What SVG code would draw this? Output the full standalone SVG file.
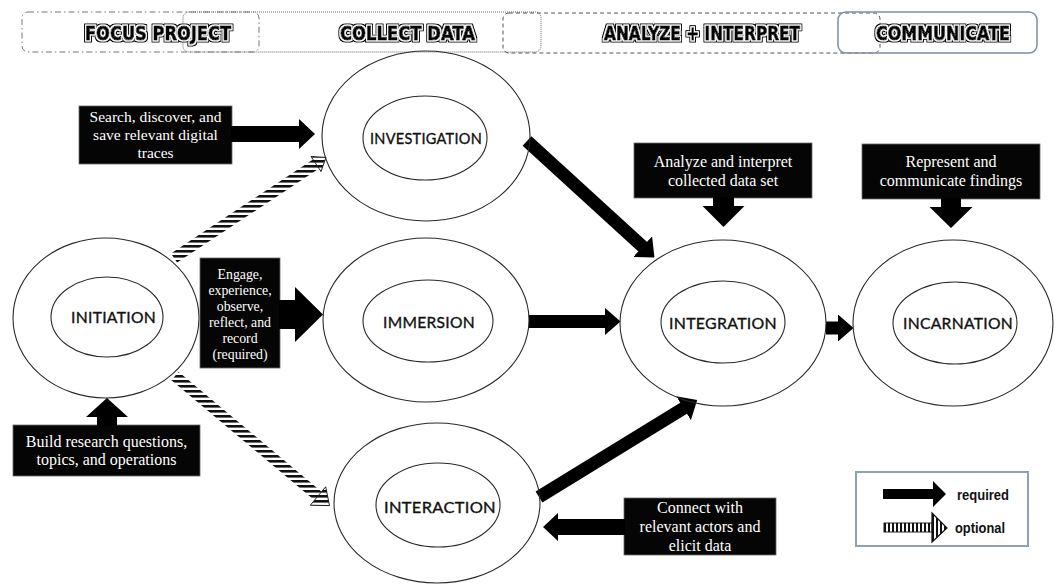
<svg xmlns="http://www.w3.org/2000/svg" width="1054" height="584" viewBox="0 0 1054 584">
<style>
.ell{fill:none;stroke:#2a2a2a;stroke-width:1.1}
.lbl{font-family:Lato,"Noto Sans",sans-serif;font-size:16px;fill:#111;stroke:#111;stroke-width:0.35;text-anchor:middle;letter-spacing:0.3px}
.box{fill:#050505;stroke:#6a6a6a;stroke-width:0.8}
.btxt{font-family:"Liberation Serif",serif;fill:#fff;text-anchor:middle;font-size:16px}
.hdr{font-family:"DejaVu Sans",sans-serif;font-weight:bold;font-size:19.5px;fill:#000;stroke:#000;stroke-width:1;stroke-linejoin:round;text-anchor:middle;filter:url(#inline)}
.req{stroke:#000;stroke-width:13;fill:none}
.opt{stroke:url(#hatch);stroke-width:11;fill:none}
.opthead{fill:url(#hatch);stroke:#111;stroke-width:0.9}
.leg{font-family:"Liberation Sans",Arial,sans-serif;font-weight:bold;font-size:14px;fill:#111}
</style>
<defs>
<filter id="inline" x="-5%" y="-30%" width="110%" height="160%">
<feMorphology in="SourceAlpha" operator="dilate" radius="2.1" result="outer"/>
<feMorphology in="SourceAlpha" operator="dilate" radius="0.8" result="mid"/>
<feFlood flood-color="#ffffff" result="white"/>
<feComposite in="white" in2="mid" operator="in" result="whiteMid"/>
<feMerge>
<feMergeNode in="outer"/>
<feMergeNode in="whiteMid"/>
<feMergeNode in="SourceGraphic"/>
</feMerge>
</filter>
<pattern id="hatch" patternUnits="userSpaceOnUse" width="8" height="5">
<rect width="8" height="5" fill="#fff"/>
<rect width="8" height="2.6" fill="#111"/>
</pattern>
<pattern id="vhatch" patternUnits="userSpaceOnUse" width="4" height="4">
<rect width="4" height="4" fill="#fff"/>
<rect width="2" height="4" fill="#111"/>
</pattern>
<marker id="reqhead" markerUnits="userSpaceOnUse" markerWidth="16" markerHeight="28" viewBox="0 0 16 28" refX="0.5" refY="14" orient="auto">
<path d="M0,0 L16,14 L0,28 Z" fill="#000"/>
</marker>
</defs>
<rect width="1054" height="584" fill="#fff"/>

<g id="header">
<rect x="22" y="12" width="237" height="40" rx="6" fill="none" stroke="#777" stroke-width="1" stroke-dasharray="6 3 1.5 3"/>
<rect x="183" y="12" width="358" height="40" rx="6" fill="none" stroke="#666" stroke-width="1" stroke-dasharray="1 1"/>
<rect x="503" y="13" width="377" height="40" rx="6" fill="none" stroke="#555" stroke-width="1" stroke-dasharray="4 3"/>
<rect x="838" y="12" width="199" height="41" rx="8" fill="none" stroke="#7f8ea3" stroke-width="1.5"/>
<text class="hdr" x="158" y="40" textLength="146" lengthAdjust="spacingAndGlyphs">FOCUS PROJECT</text>
<text class="hdr" x="407.5" y="40" textLength="135" lengthAdjust="spacingAndGlyphs">COLLECT DATA</text>
<text class="hdr" x="702" y="40" textLength="196" lengthAdjust="spacingAndGlyphs">ANALYZE + INTERPRET</text>
<text class="hdr" x="943" y="40" textLength="134" lengthAdjust="spacingAndGlyphs">COMMUNICATE</text>
</g>

<g id="connectors">
<line class="opt" x1="174" y1="258" x2="316" y2="164"/>
<polygon class="opthead" points="311,156.5 326,157.4 321,171.5"/>
<line class="opt" x1="175" y1="376" x2="318" y2="496"/>
<polygon class="opthead" points="310.3,505.2 329.5,505.6 325.7,486.8"/>
<line class="req" x1="527" y1="141" x2="643" y2="247" marker-end="url(#reqhead)"/>
<line class="req" x1="529" y1="321.5" x2="605" y2="321.5" marker-end="url(#reqhead)"/>
<line class="req" x1="826" y1="328" x2="838" y2="328" stroke-width="11" marker-end="url(#reqhead)"/>
<line class="req" x1="539" y1="497" x2="684" y2="408" marker-end="url(#reqhead)"/>
</g>

<g id="initiation">
<ellipse class="ell" cx="106" cy="318" rx="93" ry="80"/>
<ellipse class="ell" cx="107" cy="317" rx="56" ry="40"/>
<text class="lbl" x="113.5" y="323" textLength="85" lengthAdjust="spacingAndGlyphs">INITIATION</text>
</g>
<g id="investigation">
<ellipse class="ell" cx="426" cy="136" rx="104" ry="85"/>
<ellipse class="ell" cx="425" cy="138" rx="62" ry="42"/>
<text class="lbl" x="426" y="144" textLength="112" lengthAdjust="spacingAndGlyphs">INVESTIGATION</text>
</g>
<g id="immersion">
<ellipse class="ell" cx="426" cy="320" rx="103" ry="82"/>
<ellipse class="ell" cx="428" cy="321" rx="65" ry="41"/>
<text class="lbl" x="429" y="328" textLength="92" lengthAdjust="spacingAndGlyphs">IMMERSION</text>
</g>
<g id="interaction">
<ellipse class="ell" cx="437" cy="503" rx="103" ry="80"/>
<ellipse class="ell" cx="438" cy="505" rx="62" ry="42"/>
<text class="lbl" x="440" y="513" textLength="112" lengthAdjust="spacingAndGlyphs">INTERACTION</text>
</g>
<g id="integration">
<ellipse class="ell" cx="723" cy="323" rx="103" ry="83"/>
<ellipse class="ell" cx="723" cy="322" rx="62" ry="41"/>
<text class="lbl" x="723" y="329" textLength="108" lengthAdjust="spacingAndGlyphs">INTEGRATION</text>
</g>
<g id="incarnation">
<ellipse class="ell" cx="953" cy="323" rx="100" ry="83"/>
<ellipse class="ell" cx="955" cy="323" rx="62" ry="41"/>
<text class="lbl" x="958" y="329" textLength="110" lengthAdjust="spacingAndGlyphs">INCARNATION</text>
</g>

<g id="note-search">
<rect class="box" x="79" y="106" width="153" height="58"/>
<polygon fill="#000" points="231,126 299,126 299,119 315,134 299,149 299,142 231,142"/>
<text class="btxt" style="font-size:15.5px" x="155.5" y="122">Search, discover, and</text>
<text class="btxt" style="font-size:15.5px" x="155.5" y="140">save relevant digital</text>
<text class="btxt" style="font-size:15.5px" x="155.5" y="158">traces</text>
</g>
<g id="note-engage">
<rect class="box" x="200" y="258" width="80" height="110"/>
<polygon fill="#000" points="279,300 295,300 295,287 323,314.5 295,342 295,329 279,329"/>
<text class="btxt" style="font-size:13.8px" x="240" y="279">Engage,</text>
<text class="btxt" style="font-size:13.8px" x="240" y="295">experience,</text>
<text class="btxt" style="font-size:13.8px" x="240" y="311">observe,</text>
<text class="btxt" style="font-size:13.8px" x="240" y="327">reflect, and</text>
<text class="btxt" style="font-size:13.8px" x="240" y="343">record</text>
<text class="btxt" style="font-size:13.8px" x="240" y="359">(required)</text>
</g>
<g id="note-build">
<rect class="box" x="13" y="425" width="187" height="51"/>
<polygon fill="#000" points="97,426 97,417 86,417 107,398 128,417 117,417 117,426"/>
<text class="btxt" x="106.5" y="447">Build research questions,</text>
<text class="btxt" x="106.5" y="465">topics, and operations</text>
</g>
<g id="note-analyze">
<rect class="box" x="634" y="143" width="178" height="55"/>
<polygon fill="#000" points="713,197 734,197 734,206 744.5,206 723.5,227 702.5,206 713,206"/>
<text class="btxt" x="723" y="167">Analyze and interpret</text>
<text class="btxt" x="723" y="186">collected data set</text>
</g>
<g id="note-represent">
<rect class="box" x="862" y="144" width="178" height="55"/>
<polygon fill="#000" points="941,198 961,198 961,207 972.5,207 951,228 929.5,207 941,207"/>
<text class="btxt" x="951" y="167">Represent and</text>
<text class="btxt" x="951" y="186">communicate findings</text>
</g>
<g id="note-connect">
<rect class="box" x="624" y="498" width="152" height="57"/>
<polygon fill="#000" points="625,519 558,519 558,513 543,527 558,541 558,535 625,535"/>
<text class="btxt" x="700" y="513">Connect with</text>
<text class="btxt" x="700" y="532">relevant actors and</text>
<text class="btxt" x="700" y="551">elicit data</text>
</g>

<g id="legend">
<rect x="856" y="472" width="172" height="74" fill="#fff" stroke="#8fa0b8" stroke-width="2"/>
<polygon fill="#000" points="883,489 933,489 933,481 946,494 933,507 933,499 883,499"/>
<text class="leg" x="957" y="500" textLength="52" lengthAdjust="spacingAndGlyphs">required</text>
<rect x="884" y="523" width="48" height="9" fill="url(#vhatch)" stroke="#111" stroke-width="0.9"/>
<polygon points="932,513 947,528 932,542" fill="url(#vhatch)" stroke="#111" stroke-width="1.2"/>
<text class="leg" x="955" y="533" textLength="50" lengthAdjust="spacingAndGlyphs">optional</text>
</g>
</svg>
